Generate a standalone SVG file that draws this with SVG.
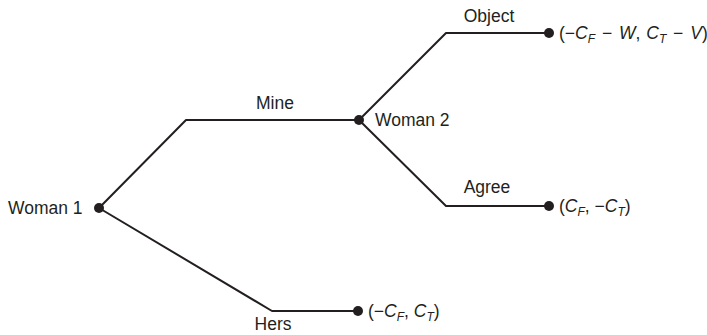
<svg xmlns="http://www.w3.org/2000/svg" width="707" height="335" viewBox="0 0 707 335">
<style>
text{font-family:"Liberation Sans",Arial,Helvetica,sans-serif;font-size:17.5px;fill:#231f20}
.i{font-style:italic}
.s{font-size:12px;font-style:italic}
.e{fill:none;stroke:#231f20;stroke-width:2;stroke-linejoin:round}
.d{fill:#231f20}
</style>
<rect width="707" height="335" fill="#fff"/>
<g id="connectors">
<path class="e" d="M99,208 L186,120 L359,120"/>
<path class="e" d="M99,208 L272,311 L358,311"/>
<path class="e" d="M359,120 L446,33 L549,33"/>
<path class="e" d="M359,120 L446,206 L549,206"/>
<text x="275" y="109" text-anchor="middle">Mine</text>
<text x="273" y="330" text-anchor="middle">Hers</text>
<text x="489" y="22" text-anchor="middle">Object</text>
<text x="487" y="193" text-anchor="middle">Agree</text>
</g>
<g id="woman1">
<circle class="d" cx="99" cy="208" r="5"/>
<text x="8" y="214">Woman 1</text>
</g>
<g id="woman2">
<circle class="d" cx="359" cy="120" r="5"/>
<text x="375" y="126">Woman 2</text>
</g>
<g id="outcome-object">
<circle class="d" cx="549" cy="33" r="5"/>
<text x="559" y="39">(−<tspan class="i">C</tspan><tspan class="s" dy="4">F</tspan><tspan dy="-4" dx="2"> − </tspan><tspan class="i" dx="2">W</tspan>, <tspan class="i" dx="1">C</tspan><tspan class="s" dy="4">T</tspan><tspan dy="-4" dx="2"> − </tspan><tspan class="i" dx="2">V</tspan>)</text>
</g>
<g id="outcome-agree">
<circle class="d" cx="549" cy="206" r="5"/>
<text x="559" y="212">(<tspan class="i">C</tspan><tspan class="s" dy="4">F</tspan><tspan dy="-4">, −</tspan><tspan class="i">C</tspan><tspan class="s" dy="4">T</tspan><tspan dy="-4">)</tspan></text>
</g>
<g id="outcome-hers">
<circle class="d" cx="358" cy="311" r="5"/>
<text x="368" y="317">(−<tspan class="i">C</tspan><tspan class="s" dy="4">F</tspan><tspan dy="-4">, </tspan><tspan class="i">C</tspan><tspan class="s" dy="4">T</tspan><tspan dy="-4">)</tspan></text>
</g>
</svg>
